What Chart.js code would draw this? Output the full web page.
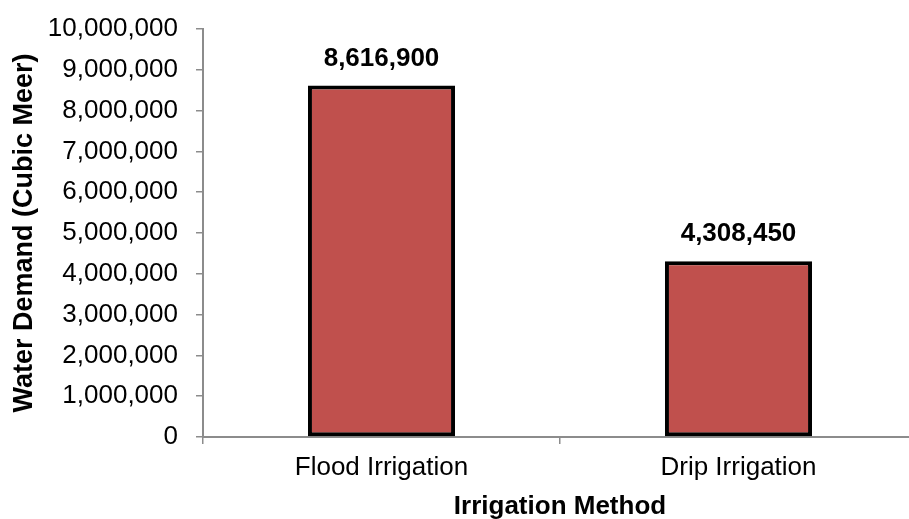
<!DOCTYPE html>
<html>
<head>
<meta charset="utf-8">
<script src="https://cdn.jsdelivr.net/npm/chart.js@4"></script>
<style>
  html, body { margin: 0; padding: 0; background: #fff; overflow: hidden; }
</style>
</head>
<body>
<canvas id="myChart" width="920" height="519"></canvas>
<script>
const categories = ['Flood Irrigation', 'Drip Irrigation'];
const waterDemand = [8616900, 4308450];
const yTitle = 'Water Demand (Cubic Meer)';
const xTitle = 'Irrigation Method';

const fmt = v => v.toLocaleString('en-US');

// value labels over each bar
const barLabels = {
  id: 'barLabels',
  afterDatasetsDraw(chart) {
    const ctx = chart.ctx;
    const meta = chart.getDatasetMeta(0);
    ctx.save();
    ctx.font = 'bold 26px "Liberation Sans", Arial, sans-serif';
    ctx.fillStyle = '#000';
    ctx.textAlign = 'center';
    ctx.textBaseline = 'middle';
    meta.data.forEach((bar, i) => {
      ctx.fillText(fmt(waterDemand[i]), bar.x, bar.y - 27);
    });
    ctx.restore();
  }
};

const ctx = document.getElementById('myChart');

new Chart(ctx, {
  type: 'bar',
  data: {
    labels: categories,
    datasets: [{
      data: waterDemand,
      backgroundColor: '#C0504D',
      borderColor: '#000',
      borderWidth: 4,
      borderSkipped: false,
      categoryPercentage: 1,
      barPercentage: 0.412
    }]
  },
  options: {
    responsive: false,
    animation: false,
    devicePixelRatio: 1,
    layout: { padding: { top: 29, right: 3, left: 0, bottom: 0 } },
    plugins: {
      legend: { display: false },
      tooltip: { enabled: false }
    },
    scales: {
      x: {
        grid: { drawOnChartArea: false, tickLength: 7, color: '#8c8c8c', lineWidth: 1.5 },
        border: { color: '#8c8c8c', width: 2 },
        ticks: {
          color: '#000',
          padding: 8,
          font: { family: '"Liberation Sans", Arial, sans-serif', size: 26 }
        },
        title: {
          display: true,
          text: xTitle,
          color: '#000',
          padding: { top: 0, bottom: -1 },
          font: { family: '"Liberation Sans", Arial, sans-serif', size: 26, weight: 'bold', lineHeight: 1 }
        },
        afterFit(scale) { scale.height = 82; }
      },
      y: {
        min: 0,
        max: 10000000,
        grid: { drawOnChartArea: false, tickLength: 7, color: '#8c8c8c', lineWidth: 1.5 },
        border: { color: '#8c8c8c', width: 2 },
        ticks: {
          stepSize: 1000000,
          color: '#000',
          padding: 18,
          callback: v => fmt(v),
          font: { family: '"Liberation Sans", Arial, sans-serif', size: 26 }
        },
        title: {
          display: true,
          text: yTitle,
          color: '#000',
          padding: { top: 11, bottom: 0 },
          font: { family: '"Liberation Sans", Arial, sans-serif', size: 27, weight: 'bold', lineHeight: 1 }
        },
        afterFit(scale) {
          scale.width = 203;
          scale.paddingTop = 0;
          scale.paddingBottom = 0;
        }
      }
    }
  },
  plugins: [barLabels]
});
</script>
</body>
</html>
